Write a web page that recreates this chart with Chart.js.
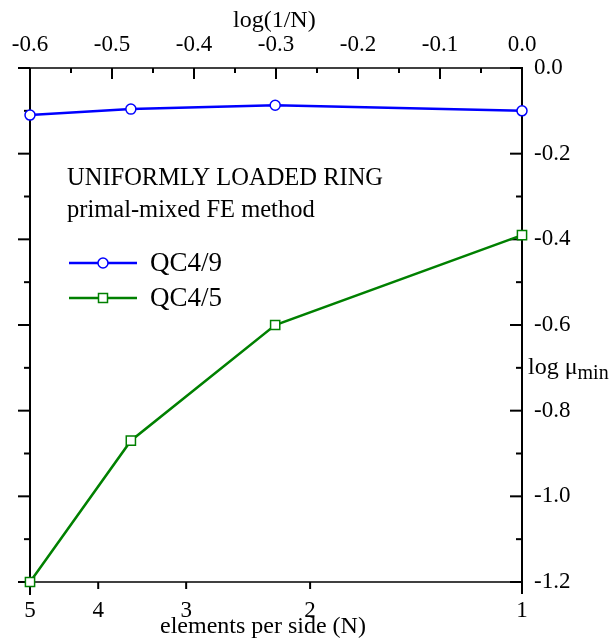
<!DOCTYPE html>
<html><head><meta charset="utf-8">
<script src="https://cdn.jsdelivr.net/npm/chart.js@4/dist/chart.umd.min.js"></script>
<style>html,body{margin:0;padding:0;background:#fff}#wrap{width:612px;height:644px}</style>
</head><body><div id="wrap"><canvas id="c" width="612" height="644"></canvas></div>
<script>
// ---- data ----
const logInvN = [-0.60, -0.477, -0.301, 0.0];
const qc49 = [-0.110, -0.096, -0.087, -0.100];
const qc45 = [-1.20, -0.87, -0.60, -0.39];
const seriesNames = ['QC4/9', 'QC4/5'];
const topTicks = [-0.6, -0.5, -0.4, -0.3, -0.2, -0.1, 0.0];
const nTicks = [5, 4, 3, 2, 1];
const yTicks = [0.0, -0.2, -0.4, -0.6, -0.8, -1.0, -1.2];
const noteLines = ['UNIFORMLY LOADED RING', 'primal-mixed FE method'];
const topTitle = 'log(1/N)';
const bottomTitle = 'elements per side (N)';
const yTitleMain = 'log \u03bc';
const yTitleSub = 'min';

const FONT = '"Liberation Serif", "Times New Roman", serif';

function seg(ctx, x1, y1, x2, y2, w) {
  ctx.lineWidth = w;
  ctx.beginPath(); ctx.moveTo(x1, y1); ctx.lineTo(x2, y2); ctx.stroke();
}

const frame = {
  id: 'frame',
  beforeDatasetsDraw(chart) {
    const ctx = chart.ctx, a = chart.chartArea;
    const xs = chart.scales.x, xb = chart.scales.xN, ys = chart.scales.y;
    ctx.save();
    ctx.strokeStyle = '#000';
    // axis lines
    seg(ctx, a.left - 12, a.top, a.right, a.top, 1.5);
    seg(ctx, a.left - 12, a.bottom, a.right, a.bottom, 1.5);
    seg(ctx, a.left, a.top, a.left, a.bottom + 13, 2);
    seg(ctx, a.right, a.top - 1, a.right, a.bottom + 12, 2);
    // top ticks (inward)
    topTicks.forEach((v, i) => {
      const px = xs.getPixelForValue(v);
      seg(ctx, px, a.top, px, a.top + 11, 2);
      if (i < topTicks.length - 1) {
        const pm = xs.getPixelForValue((v + topTicks[i + 1]) / 2);
        seg(ctx, pm, a.top, pm, a.top + 5, 2);
      }
    });
    // left (outward) and right (inward) ticks
    yTicks.forEach((v, i) => {
      const py = ys.getPixelForValue(v);
      seg(ctx, a.left - 12, py, a.left, py, 2);
      seg(ctx, a.right - 12, py, a.right, py, 2);
      if (i < yTicks.length - 1) {
        const pm = ys.getPixelForValue((v + yTicks[i + 1]) / 2);
        seg(ctx, a.left - 6, pm, a.left, pm, 2);
        seg(ctx, a.right - 6, pm, a.right, pm, 2);
      }
    });
    // bottom ticks (outward)
    nTicks.forEach(v => {
      const px = xb.getPixelForValue(v);
      const len = (v === 5 || v === 1) ? 12 : 7;
      seg(ctx, px, a.bottom, px, a.bottom + len, 2);
    });
    ctx.restore();
  },
  afterDatasetsDraw(chart) {
    const ctx = chart.ctx, a = chart.chartArea;
    ctx.save();
    ctx.fillStyle = '#000';
    ctx.textAlign = 'left';
    ctx.textBaseline = 'alphabetic';
    // axis titles
    ctx.font = '24px ' + FONT;
    ctx.fillText(topTitle, 233, 27);
    ctx.fillText(bottomTitle, 160, 633);
    // annotation
    ctx.font = '24.5px ' + FONT;
    ctx.fillText(noteLines[0], a.left + 37, 185);
    ctx.fillText(noteLines[1], a.left + 37, 217);
    // legend
    chart.data.datasets.forEach((ds, i) => {
      const y = 263 + i * 35;
      ctx.strokeStyle = ds.borderColor;
      seg(ctx, a.left + 39, y, a.left + 107, y, 2.5);
      ctx.fillStyle = '#fff';
      ctx.lineWidth = 1.5;
      ctx.beginPath();
      if (ds.pointStyle === 'circle') {
        ctx.arc(a.left + 73, y, 5, 0, Math.PI * 2);
      } else {
        ctx.rect(a.left + 73 - 4.5, y - 4.5, 9, 9);
      }
      ctx.fill(); ctx.stroke();
      ctx.fillStyle = '#000';
      ctx.font = '27px ' + FONT;
      ctx.fillText(ds.label, a.left + 120, y + 8);
    });
    // right axis title
    ctx.font = '24px ' + FONT;
    const w = ctx.measureText(yTitleMain).width;
    ctx.fillText(yTitleMain, a.right + 6, 374);
    ctx.font = '20px ' + FONT;
    ctx.fillText(yTitleSub, a.right + 6 + w, 379);
    ctx.restore();
  }
};

new Chart(document.getElementById('c'), {
  type: 'line',
  data: {
    datasets: [
      {
        label: seriesNames[0],
        data: logInvN.map((x, i) => ({ x: x, y: qc49[i] })),
        borderColor: '#0000ff', borderWidth: 2.5,
        pointStyle: 'circle', pointRadius: 5,
        pointBackgroundColor: '#ffffff', pointBorderColor: '#0000ff', pointBorderWidth: 1.5,
        xAxisID: 'x', yAxisID: 'y', tension: 0, clip: false
      },
      {
        label: seriesNames[1],
        data: logInvN.map((x, i) => ({ x: x, y: qc45[i] })),
        borderColor: '#008000', borderWidth: 2.5,
        pointStyle: 'rect', pointRadius: 6.5,
        pointBackgroundColor: '#ffffff', pointBorderColor: '#008000', pointBorderWidth: 1.5,
        xAxisID: 'x', yAxisID: 'y', tension: 0, clip: false
      }
    ]
  },
  options: {
    responsive: false, animation: false, devicePixelRatio: 1,
    layout: { padding: { left: 30, right: 0, top: 0, bottom: 0 } },
    plugins: { legend: { display: false }, tooltip: { enabled: false } },
    scales: {
      x: {
        type: 'linear', position: 'top', min: -0.6, max: 0,
        afterBuildTicks: s => { s.ticks = topTicks.map(v => ({ value: v })); },
        afterFit: s => { s.height = 68; },
        grid: { display: false, drawTicks: false }, border: { display: false },
        ticks: { color: '#000', font: { family: FONT, size: 23 }, padding: 9, maxRotation: 0, autoSkip: false,
          callback: v => Number(v).toFixed(1) }
      },
      xN: {
        type: 'logarithmic', axis: 'x', position: 'bottom', min: 1, max: 5, reverse: true,
        afterBuildTicks: s => { s.ticks = nTicks.map(v => ({ value: v })); },
        afterFit: s => { s.height = 62; },
        grid: { display: false, drawTicks: false }, border: { display: false },
        ticks: { color: '#000', font: { family: FONT, size: 23 }, padding: 15, maxRotation: 0, autoSkip: false,
          callback: v => String(v) }
      },
      y: {
        type: 'linear', position: 'right', min: -1.2, max: 0,
        afterBuildTicks: s => { s.ticks = yTicks.map(v => ({ value: v })); },
        afterFit: s => { s.width = 90; },
        grid: { display: false, drawTicks: false }, border: { display: false },
        ticks: { color: '#000', font: { family: FONT, size: 23 }, padding: 12, autoSkip: false,
          callback: v => Number(v).toFixed(1) }
      }
    }
  },
  plugins: [frame]
});
</script>
</body></html>
